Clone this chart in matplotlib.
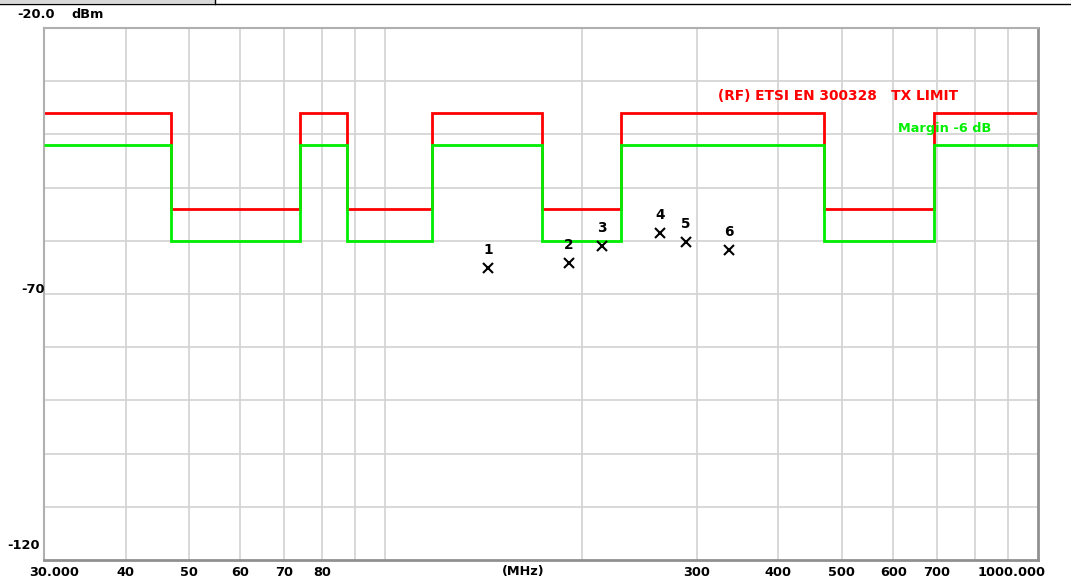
import matplotlib
matplotlib.use('Agg')
import matplotlib.pyplot as plt
import matplotlib.transforms as mtransforms
from matplotlib.lines import Line2D
import numpy as np

# ETSI EN 300328 TX spurious limit (dBm) per band edge (MHz)
limit_edges = [30, 47, 74, 87.5, 118, 174, 230, 470, 694, 1000]
limit_levels = [-36, -54, -36, -54, -36, -54, -36, -54, -36]
margin_db = -6

# measured peaks
peak_freq = [143.6, 191.2, 215.0, 263.5, 288.5, 336.6]
peak_level = [-65.2, -64.1, -61.0, -58.6, -60.2, -61.7]
peak_names = ['1', '2', '3', '4', '5', '6']

x_ticks = [30, 40, 50, 60, 70, 80, 300, 400, 500, 600, 700, 1000]
x_tick_labels = ['30.000', '40', '50', '60', '70', '80', '300', '400', '500', '600', '700', '1000.000']
x_grid = [40, 50, 60, 70, 80, 90, 100, 200, 300, 400, 500, 600, 700, 800, 900]
y_grid = [-30, -40, -50, -60, -70, -80, -90, -100, -110]

plt.rcParams['font.family'] = ['DejaVu Sans']
fs = 9.3

fig = plt.figure(figsize=(10.71, 5.83), dpi=100)
ax = fig.add_axes([44 / 1071, 1 - 560 / 583, 994 / 1071, 532 / 583])
ax.set_xscale('log')
ax.set_xlim(30, 1000)
ax.set_ylim(-120, -20)

for g in x_grid:
    ax.axvline(g, color='#d2d2d2', lw=1.2, zorder=0)
for g in y_grid:
    ax.axhline(g, color='#d2d2d2', lw=1.2, zorder=0)

levels = np.array(limit_levels, dtype=float)
ax.stairs(levels, limit_edges, color='#ff0000', lw=2, baseline=None, zorder=2)
ax.stairs(levels + margin_db, limit_edges, color='#00ee00', lw=2, baseline=None, zorder=3)

ax.plot(peak_freq, peak_level, 'x', color='black', ms=7, mew=1.5, zorder=4)
for f, l, n in zip(peak_freq, peak_level, peak_names):
    ax.annotate(n, (f, l), xytext=(0, 8), textcoords='offset points',
                ha='center', va='bottom', fontsize=9.8, fontweight='bold', zorder=4)

ax.text(323, -32.8, '(RF) ETSI EN 300328   TX LIMIT', color='#ff0000',
        fontsize=9.9, fontweight='bold', va='center', ha='left')
ax.text(610, -38.8, 'Margin -6 dB', color='#00ee00',
        fontsize=fs, fontweight='bold', va='center', ha='left')

# x tick labels, no tick marks
ax.set_xticks(x_ticks)
ax.set_xticklabels(x_tick_labels)
ax.xaxis.set_minor_locator(matplotlib.ticker.NullLocator())
ax.tick_params(axis='x', length=0, pad=4, labelsize=fs)
for lab in ax.get_xticklabels():
    lab.set_fontweight('bold')
xlabs = ax.get_xticklabels()
xlabs[0].set_transform(xlabs[0].get_transform() + mtransforms.ScaledTranslation(10 / 100, 0, fig.dpi_scale_trans))
xlabs[-1].set_transform(xlabs[-1].get_transform() + mtransforms.ScaledTranslation(-26 / 100, 0, fig.dpi_scale_trans))
ax.text(0.482, -0.022, '(MHz)', transform=ax.transAxes, ha='center', va='center',
        fontsize=fs, fontweight='bold')

# y labels
ax.set_yticks([])
ax.text(-0.027, 1.025, '-20.0', transform=ax.transAxes, ha='left', va='center',
        fontsize=fs, fontweight='bold')
ax.text(0.028, 1.025, 'dBm', transform=ax.transAxes, ha='left', va='center',
        fontsize=fs, fontweight='bold')
ax.text(0.001, 0.508, '-70', transform=ax.transAxes, ha='right', va='center',
        fontsize=fs, fontweight='bold')
ax.text(-0.004, 0.028, '-120', transform=ax.transAxes, ha='right', va='center',
        fontsize=fs, fontweight='bold')

for side in ['top', 'left']:
    ax.spines[side].set_color('#b0b0b0')
    ax.spines[side].set_linewidth(1.5)
for side in ['bottom', 'right']:
    ax.spines[side].set_color('#909090')
    ax.spines[side].set_linewidth(2)

# window edge from the screenshot
fig.add_artist(plt.Rectangle((0, 1 - 3 / 583), 215 / 1071, 3 / 583, transform=fig.transFigure,
                             facecolor='#d8d8d8', edgecolor='none'))
fig.add_artist(Line2D([0, 1], [1 - 3.5 / 583, 1 - 3.5 / 583], transform=fig.transFigure,
                      color='black', lw=1))
fig.add_artist(Line2D([215 / 1071, 215 / 1071], [1 - 3.5 / 583, 1], transform=fig.transFigure,
                      color='black', lw=1))

fig.savefig('out.png', dpi=100)
